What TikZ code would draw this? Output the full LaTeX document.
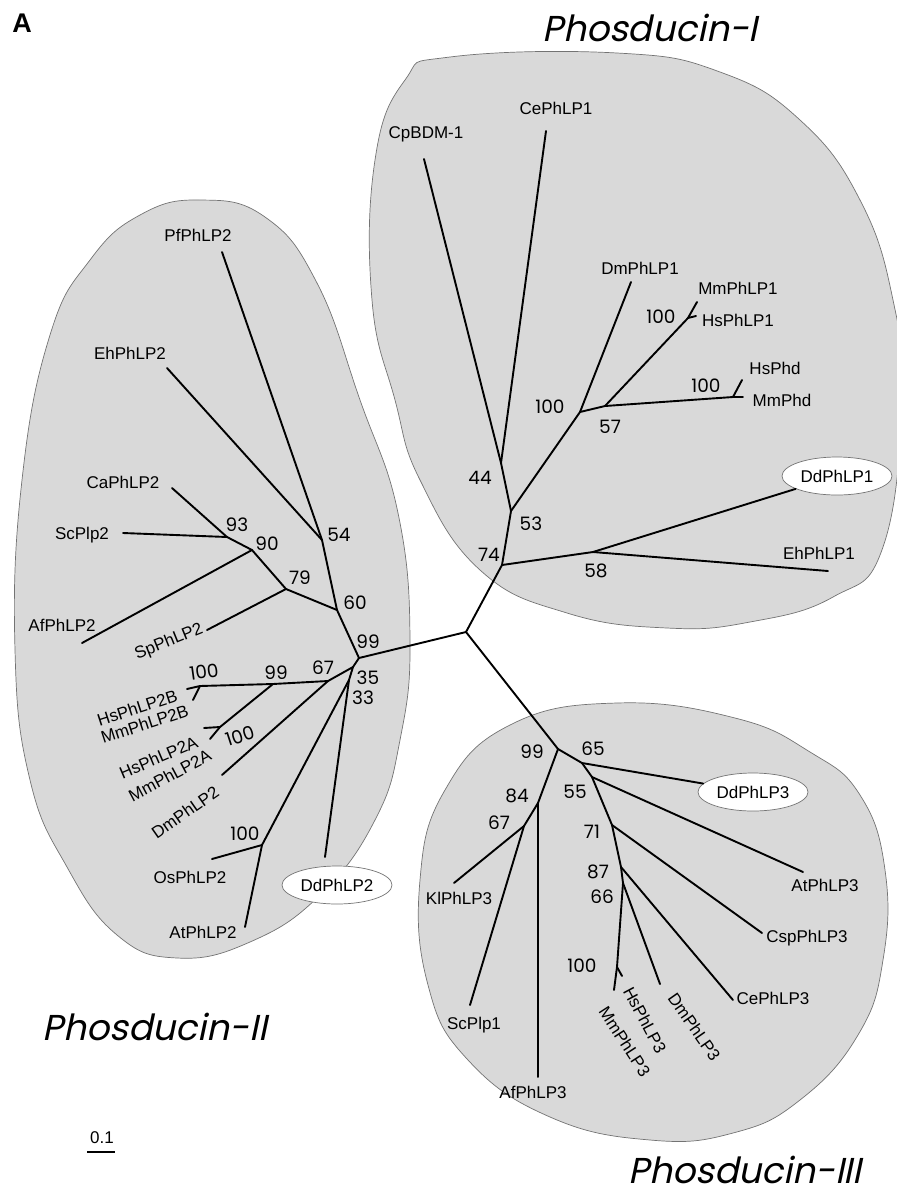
\documentclass[tikz,border=0pt]{standalone}
\usepackage{fontspec}
\setmainfont{Liberation Sans}
\newfontfamily\cladefont{Poppins}[FakeSlant=0.21]
\newfontfamily\bootfont{Poppins}
\usetikzlibrary{shapes.geometric}

\begin{document}
\begin{tikzpicture}[x=1pt, y=-1pt,
  clade/.style={draw=black!55, line width=0.7pt, fill=black!15},
  br/.style={line width=1.9pt, line cap=round, line join=round},
  leaf/.style={font=\fontsize{17}{17}\selectfont, inner sep=0pt},
  boot/.style={font=\bootfont\fontsize{18.5}{18.5}\selectfont, inner sep=0pt},
  dd/.style={ellipse, draw=black!55, fill=white, line width=0.7pt, minimum width=110pt, minimum height=38pt, inner sep=0pt, font=\fontsize{17}{17}\selectfont},
  family/.style={font=\cladefont\fontsize{36}{36}\selectfont, inner sep=0pt}
]
\useasboundingbox (0,0) rectangle (897,1195);

% clade backgrounds
\draw[clade] plot[smooth cycle, tension=0.75] coordinates {(450,57) (617,53) (720,72) (800,120) (860,200) (893,300) (902,400) (883,547) (833,597) (750,622) (667,628) (567,613) (480,570) (420,480) (395,400) (372,300) (375,160) (405,80)};
\draw[clade] plot[smooth cycle, tension=0.75] coordinates {(200,200) (265,217) (317,283) (360,400) (398,513) (410,640) (400,740) (375,820) (320,895) (250,942) (177,958) (117,935) (67,867) (30,780) (15,650) (22,480) (50,335) (90,260) (140,215)};
\draw[clade] plot[smooth cycle, tension=0.75] coordinates {(617,703) (735,718) (810,752) (860,795) (885,870) (883,960) (858,1035) (800,1100) (733,1133) (650,1140) (550,1117) (468,1060) (428,985) (420,880) (445,790) (510,725)};

\node[font=\bfseries\fontsize{27}{27}\selectfont, inner sep=0pt] (panel) at (22,23) {A};
\node[family] (fam1) at (650,28) {Phosducin-I};
\node[family] (fam2) at (155,1027) {Phosducin-II};
\node[family] (fam3) at (745,1170) {Phosducin-III};

% junctions
\coordinate (root) at (466,632);
\coordinate (p1a) at (502,565);
\coordinate (p1b) at (593,552);
\coordinate (p1c) at (511,511);
\coordinate (p1d) at (501,463);
\coordinate (p1e) at (580,412);
\coordinate (p1f) at (605,406);
\coordinate (p1g) at (688,318);
\coordinate (p1h) at (733,397);
\coordinate (p2a) at (359,658);
\coordinate (p2b) at (337,610);
\coordinate (p2c) at (322,540);
\coordinate (p2d) at (286,589);
\coordinate (p2e) at (252,550);
\coordinate (p2f) at (227,537);
\coordinate (p2g) at (353,667);
\coordinate (p2h) at (328,681);
\coordinate (p2i) at (273,684);
\coordinate (p2j) at (200,686);
\coordinate (p2k) at (220,727);
\coordinate (p2l) at (349,680);
\coordinate (p2m) at (262,845);
\coordinate (p3a) at (558,749);
\coordinate (p3b) at (582,763);
\coordinate (p3c) at (592,777);
\coordinate (p3d) at (612,825);
\coordinate (p3e) at (621,867);
\coordinate (p3f) at (623,883);
\coordinate (p3g) at (617,967);
\coordinate (p3h) at (538,803);
\coordinate (p3i) at (524,826);

% tips
\coordinate (t-cpbdm) at (424,159);
\coordinate (t-cephlp1) at (546,131);
\coordinate (t-dmphlp1) at (631,282);
\coordinate (t-mmphlp1) at (697,302);
\coordinate (t-hsphlp1) at (696,316);
\coordinate (t-hsphd) at (742,380);
\coordinate (t-mmphd) at (743,397);
\coordinate (t-ehphlp1) at (828,571);
\coordinate (t-pfphlp2) at (222,252);
\coordinate (t-ehphlp2) at (167,368);
\coordinate (t-caphlp2) at (172,488);
\coordinate (t-scplp2) at (123,533);
\coordinate (t-afphlp2) at (82,643);
\coordinate (t-spphlp2) at (207,630);
\coordinate (t-hsphlp2b) at (187,689);
\coordinate (t-mmphlp2b) at (193,700);
\coordinate (t-hsphlp2a) at (204,728);
\coordinate (t-mmphlp2a) at (210,739);
\coordinate (t-dmphlp2) at (222,775);
\coordinate (t-osphlp2) at (212,859);
\coordinate (t-atphlp2) at (245,927);
\coordinate (t-ddphlp2) at (325,857);
\coordinate (t-atphlp3) at (803,872);
\coordinate (t-cspphlp3) at (762,933);
\coordinate (t-cephlp3) at (733,1000);
\coordinate (t-dmphlp3) at (660,984);
\coordinate (t-hsphlp3) at (622,976);
\coordinate (t-mmphlp3) at (614,990);
\coordinate (t-afphlp3) at (538,1077);
\coordinate (t-klphlp3) at (454,883);
\coordinate (t-scplp1) at (470,1005);

% Phosducin-I
\node[leaf] (cpbdm) at (426,134) {CpBDM-1};
\node[leaf] (cephlp1) at (556,108) {CePhLP1};
\node[leaf] (dmphlp1) at (640,268) {DmPhLP1};
\node[leaf] (mmphlp1) at (738,288) {MmPhLP1};
\node[leaf] (hsphlp1) at (738,320) {HsPhLP1};
\node[leaf] (hsphd) at (775,368) {HsPhd};
\node[leaf] (mmphd) at (782,400) {MmPhd};
\node[leaf] (ehphlp1) at (819,553) {EhPhLP1};
\node[dd] (ddphlp1) at (837,476) {DdPhLP1};
\node[boot] (b44) at (480,478) {44};
\node[boot] (b53) at (531,524) {53};
\node[boot] (b74) at (489,555) {74};
\node[boot] (b58) at (596,571) {58};
\node[boot] (b100a) at (550,407) {100};
\node[boot] (b57) at (610,427) {57};
\node[boot] (b100b) at (661,317) {100};
\node[boot] (b100c) at (706,386) {100};

% Phosducin-II
\node[leaf] (pfphlp2) at (198,235) {PfPhLP2};
\node[leaf] (ehphlp2) at (130,353) {EhPhLP2};
\node[leaf] (caphlp2) at (123,482) {CaPhLP2};
\node[leaf] (scplp2) at (82,535) {ScPlp2};
\node[leaf] (afphlp2) at (62,625) {AfPhLP2};
\node[leaf, rotate=22] (spphlp2) at (169,642) {SpPhLP2};
\node[leaf, rotate=18, anchor=east] (hsphlp2b) at (177,695) {HsPhLP2B};
\node[leaf, rotate=18, anchor=east] (mmphlp2b) at (188,710) {MmPhLP2B};
\node[leaf, rotate=23, anchor=east] (hsphlp2a) at (197,741) {HsPhLP2A};
\node[leaf, rotate=28, anchor=east] (mmphlp2a) at (210,754) {MmPhLP2A};
\node[leaf, rotate=35, anchor=east] (dmphlp2) at (217,790) {DmPhLP2};
\node[leaf] (osphlp2) at (190,877) {OsPhLP2};
\node[leaf] (atphlp2) at (203,932) {AtPhLP2};
\node[dd] (ddphlp2) at (337,885) {DdPhLP2};
\node[boot] (b54) at (339,535) {54};
\node[boot] (b93) at (237,525) {93};
\node[boot] (b90) at (267,544) {90};
\node[boot] (b79) at (300,578) {79};
\node[boot] (b60) at (355,603) {60};
\node[boot] (b99a) at (368,642) {99};
\node[boot, rotate=8] (b100d) at (204,672) {100};
\node[boot] (b99b) at (276,673) {99};
\node[boot] (b67a) at (323,668) {67};
\node[boot] (b35) at (368,678) {35};
\node[boot] (b33) at (363,698) {33};
\node[boot, rotate=18] (b100e) at (240,736) {100};
\node[boot] (b100f) at (245,834) {100};

% Phosducin-III
\node[dd] (ddphlp3) at (753,792) {DdPhLP3};
\node[leaf] (atphlp3) at (825,885) {AtPhLP3};
\node[leaf] (cspphlp3) at (807,938) {CspPhLP3};
\node[leaf] (cephlp3) at (773,998) {CePhLP3};
\node[leaf, rotate=-55, anchor=west] (dmphlp3) at (672,995) {DmPhLP3};
\node[leaf, rotate=-62, anchor=west] (hsphlp3) at (628,988) {HsPhLP3};
\node[leaf, rotate=-57, anchor=west] (mmphlp3) at (603,1008) {MmPhLP3};
\node[leaf] (klphlp3) at (459,898) {KlPhLP3};
\node[leaf] (scplp1) at (474,1025) {ScPlp1};
\node[leaf] (afphlp3) at (533,1092) {AfPhLP3};
\node[boot] (b99c) at (532,752) {99};
\node[boot] (b65) at (593,749) {65};
\node[boot] (b84) at (517,796) {84};
\node[boot] (b55) at (575,792) {55};
\node[boot] (b67b) at (499,823) {67};
\node[boot] (b71) at (592,832) {71};
\node[boot] (b87) at (598,872) {87};
\node[boot] (b66) at (602,897) {66};
\node[boot] (b100g) at (582,966) {100};

% branches
\draw[br] (root) -- (p1a);
\draw[br] (root) -- (p2a);
\draw[br] (root) -- (p3a);

\draw[br] (p1a) -- (p1b);
\draw[br] (p1b) -- (ddphlp1);
\draw[br] (p1b) -- (t-ehphlp1);
\draw[br] (p1a) -- (p1c);
\draw[br] (p1c) -- (p1d);
\draw[br] (p1d) -- (t-cpbdm);
\draw[br] (p1d) -- (t-cephlp1);
\draw[br] (p1c) -- (p1e);
\draw[br] (p1e) -- (t-dmphlp1);
\draw[br] (p1e) -- (p1f);
\draw[br] (p1f) -- (p1g);
\draw[br] (p1g) -- (t-mmphlp1);
\draw[br] (p1g) -- (t-hsphlp1);
\draw[br] (p1f) -- (p1h);
\draw[br] (p1h) -- (t-hsphd);
\draw[br] (p1h) -- (t-mmphd);

\draw[br] (p2a) -- (p2b);
\draw[br] (p2b) -- (p2c);
\draw[br] (p2c) -- (t-pfphlp2);
\draw[br] (p2c) -- (t-ehphlp2);
\draw[br] (p2b) -- (p2d);
\draw[br] (p2d) -- (t-spphlp2);
\draw[br] (p2d) -- (p2e);
\draw[br] (p2e) -- (t-afphlp2);
\draw[br] (p2e) -- (p2f);
\draw[br] (p2f) -- (t-caphlp2);
\draw[br] (p2f) -- (t-scplp2);
\draw[br] (p2a) -- (p2g);
\draw[br] (p2g) -- (p2h);
\draw[br] (p2h) -- (t-dmphlp2);
\draw[br] (p2h) -- (p2i);
\draw[br] (p2i) -- (p2j);
\draw[br] (p2j) -- (t-hsphlp2b);
\draw[br] (p2j) -- (t-mmphlp2b);
\draw[br] (p2i) -- (p2k);
\draw[br] (p2k) -- (t-hsphlp2a);
\draw[br] (p2k) -- (t-mmphlp2a);
\draw[br] (p2g) -- (p2l);
\draw[br] (p2l) -- (p2m);
\draw[br] (p2m) -- (t-osphlp2);
\draw[br] (p2m) -- (t-atphlp2);
\draw[br] (p2l) -- (t-ddphlp2);

\draw[br] (p3a) -- (p3b);
\draw[br] (p3b) -- (ddphlp3);
\draw[br] (p3b) -- (p3c);
\draw[br] (p3c) -- (t-atphlp3);
\draw[br] (p3c) -- (p3d);
\draw[br] (p3d) -- (t-cspphlp3);
\draw[br] (p3d) -- (p3e);
\draw[br] (p3e) -- (t-cephlp3);
\draw[br] (p3e) -- (p3f);
\draw[br] (p3f) -- (t-dmphlp3);
\draw[br] (p3f) -- (p3g);
\draw[br] (p3g) -- (t-hsphlp3);
\draw[br] (p3g) -- (t-mmphlp3);
\draw[br] (p3a) -- (p3h);
\draw[br] (p3h) -- (t-afphlp3);
\draw[br] (p3h) -- (p3i);
\draw[br] (p3i) -- (t-klphlp3);
\draw[br] (p3i) -- (t-scplp1);

% scale bar
\node[font=\fontsize{17}{17}\selectfont, inner sep=0pt] (scale) at (102,1138) {0.1};
\coordinate (sb1) at (87,1152);
\coordinate (sb2) at (115,1152);
\draw[line width=1.2pt] (sb1) -- (sb2);
\end{tikzpicture}
\end{document}
